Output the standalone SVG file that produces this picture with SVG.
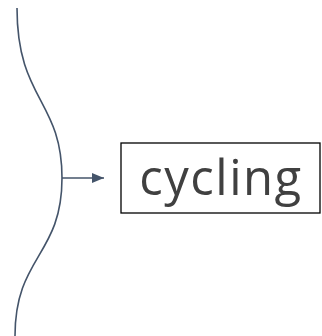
<svg xmlns="http://www.w3.org/2000/svg" width="322" height="336" viewBox="0 0 322 336">
  <style>
    .link { fill: none; stroke: #44546A; stroke-width: 1.6; }
    .box { fill: #ffffff; stroke: #000000; stroke-width: 1.3; }
    .label { font-family: "Open Sans", "Noto Sans", sans-serif; font-size: 49px; letter-spacing: 1.5px; fill: #404040; }
  </style>
  <defs>
    <marker id="arrow" markerWidth="12" markerHeight="10" refX="12" refY="5" orient="auto" markerUnits="userSpaceOnUse">
      <path d="M0,0 L12,5 L0,10 Z" fill="#44546A"/>
    </marker>
  </defs>
  <rect width="322" height="336" fill="#ffffff"/>
  <g id="connectors">
    <path class="link" d="M17,8 C17,100 62,100 62,178 C62,256 15,256 15,336"/>
    <path class="link" d="M62,178 L104,178" marker-end="url(#arrow)"/>
  </g>
  <g id="node-cycling">
    <rect class="box" x="121" y="143" width="199" height="70"/>
    <text class="label" x="221" y="195" text-anchor="middle">cycling</text>
  </g>
</svg>
